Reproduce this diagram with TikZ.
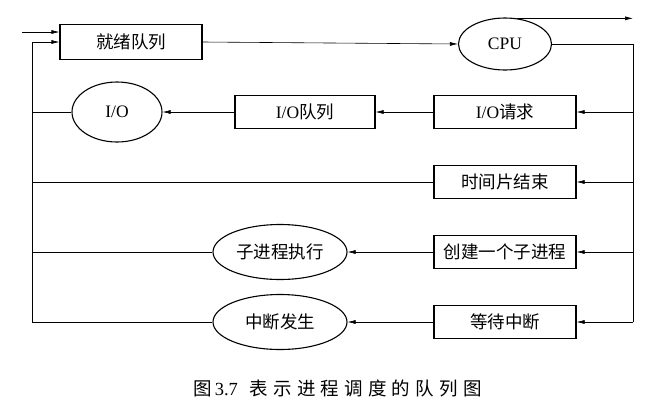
\documentclass[tikz,border=0pt]{standalone}
\usepackage{fontspec}
\setmainfont{Liberation Serif}
\newfontfamily\cjk{Noto Sans CJK SC}
\newfontfamily\cjkcap[LetterSpace=28]{Noto Sans CJK SC}
\usepackage{tikz}
\usetikzlibrary{shapes.geometric, arrows.meta, positioning, calc}
\tikzset{
  queuebox/.style={draw, rectangle, line width=1.1pt, minimum width=142pt, minimum height=33pt, inner sep=0pt, font=\fontsize{17.5}{20}\selectfont},
  devell/.style={draw, ellipse, line width=1.1pt, inner sep=0pt, font=\fontsize{17.5}{20}\selectfont},
  arr/.style={-{Latex[length=8pt,width=4pt]}, line width=0.6pt},
  wire/.style={line width=0.6pt}
}

\begin{document}
\begin{tikzpicture}[x=1pt, y=-1pt]
\useasboundingbox (0,0) rectangle (652,413);

% Top row
\node[queuebox, minimum height=35pt] (ready) at (131,42) {\cjk 就绪队列};
\node[devell, minimum width=93pt, minimum height=52pt] (cpu) at (505,44) {CPU};

% Right column of events
\node[queuebox] (ioreq) at (505,112) {I/O{\cjk 请求}};
\node[queuebox] (slice) at (505,182) {\cjk 时间片结束};
\node[queuebox] (fork) at (505,252) {\cjk 创建一个子进程};
\node[queuebox] (wait) at (505,322) {\cjk 等待中断};

% Middle and left
\node[queuebox, minimum width=140pt] (ioq) at (305,112) {I/O{\cjk 队列}};
\node[devell, minimum width=90pt, minimum height=60pt] (io) at (117,112) {I/O};
\node[devell, minimum width=134pt, minimum height=55pt] (child) at (280,252) {\cjk 子进程执行};
\node[devell, minimum width=134pt, minimum height=55pt] (intr) at (280,322) {\cjk 中断发生};

% Rails
\coordinate (rtop) at (633,44);
\coordinate (rbot) at (633,322);
\coordinate (ltop) at (32,42);
\coordinate (lbot) at (32,322);
\coordinate (newin) at (22,32);
\coordinate (done) at (633,19);

% Ready queue to CPU and out
\draw[arr] (newin) -- (newin -| ready.west);
\draw[arr] (ready.east) -- (cpu.west);
\draw[arr] (cpu.65) -- (done |- cpu.65);
\draw[wire] (cpu.east) -- (rtop) -- (rbot);

% Right rail into the event boxes
\draw[arr] (rtop |- ioreq) -- (ioreq.east);
\draw[arr] (rtop |- slice) -- (slice.east);
\draw[arr] (rtop |- fork) -- (fork.east);
\draw[arr] (rbot) -- (wait.east);

% Events to the left
\draw[arr] (ioreq.west) -- (ioq.east);
\draw[arr] (ioq.west) -- (io.east);
\draw[arr] (fork.west) -- (child.east);
\draw[arr] (wait.west) -- (intr.east);

% Back to the ready queue
\draw[wire] (io.west) -- (ltop |- io);
\draw[wire] (slice.west) -- (ltop |- slice);
\draw[wire] (child.west) -- (ltop |- child);
\draw[wire] (intr.west) -- (lbot) -- (ltop);
\draw[arr] (ltop) -- (ready.west);

% Caption
\node[anchor=west, inner sep=0pt, font=\fontsize{18.5}{20}\selectfont] (caption) at (193,388) {{\cjkcap 图}\,3.7\hspace{12pt}{\cjkcap 表示进程调度的队列图}};
\end{tikzpicture}
\end{document}
